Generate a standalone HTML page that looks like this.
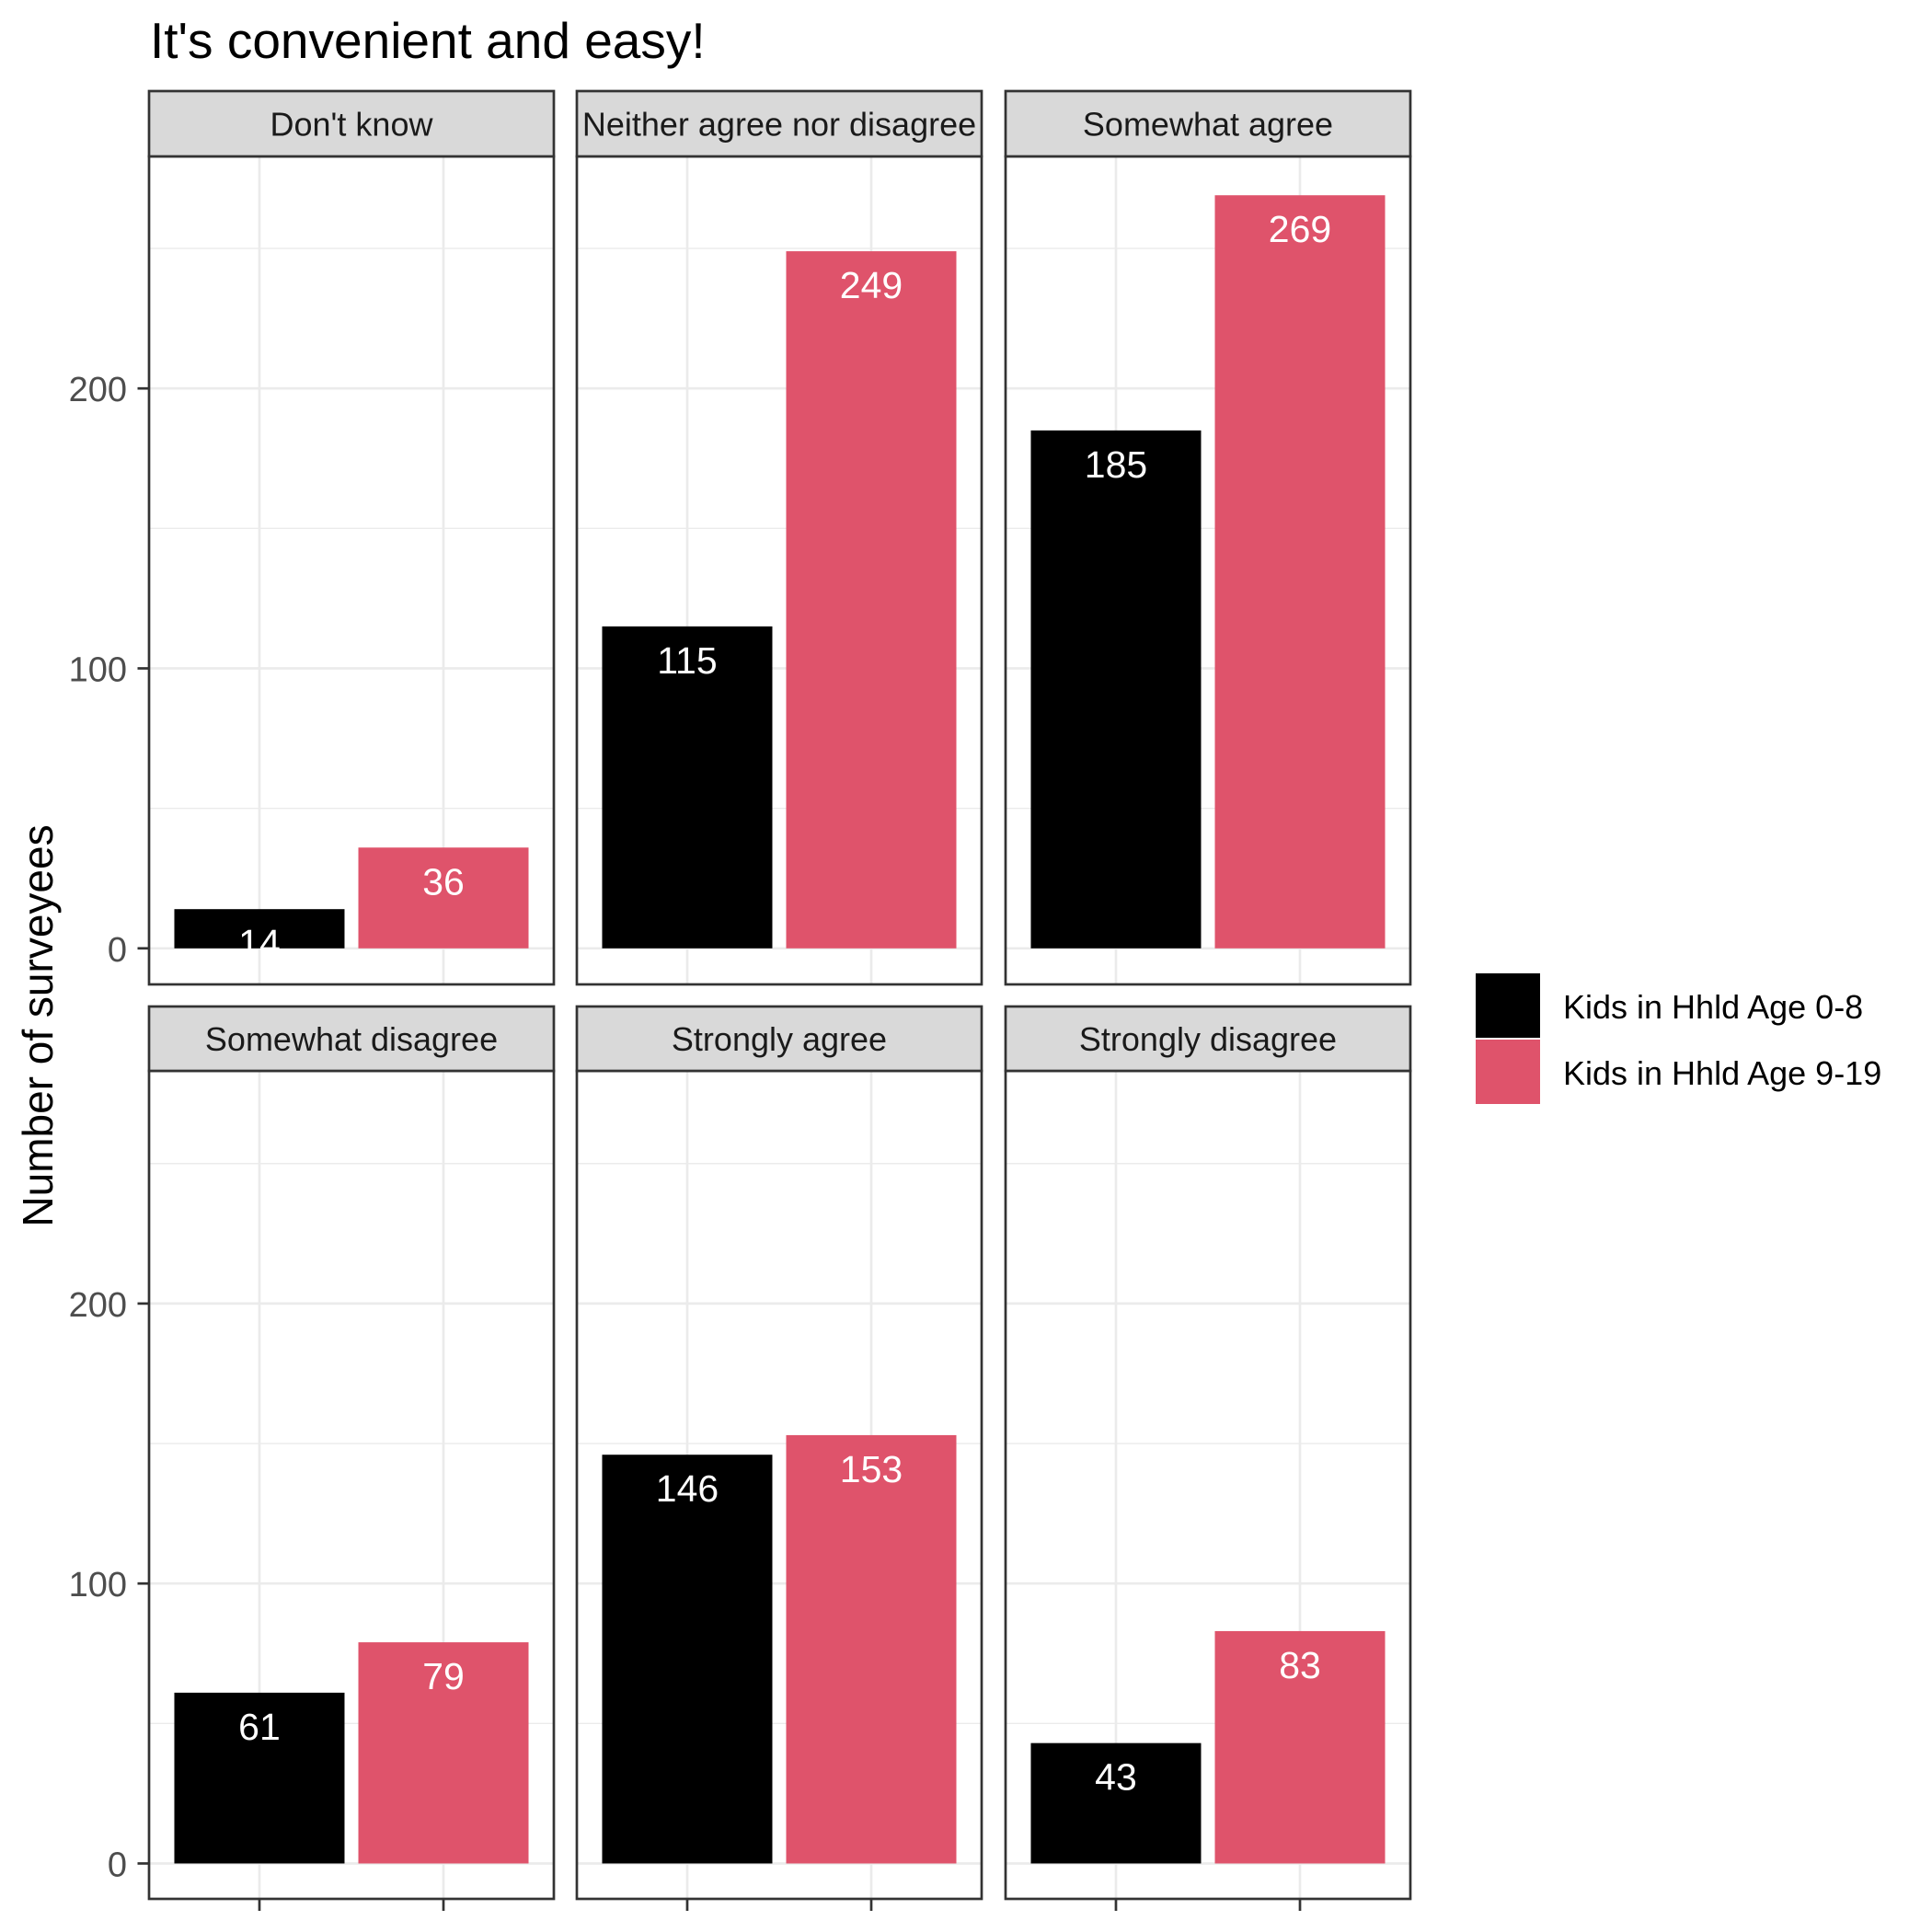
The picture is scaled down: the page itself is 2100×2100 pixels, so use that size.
<!DOCTYPE html>
<html><head><meta charset="utf-8"><style>
html,body{margin:0;padding:0;background:#fff;}
svg{display:block;font-family:"Liberation Sans",Arial,sans-serif;}
</style></head><body>
<svg id="chart" width="2100" height="2100" viewBox="0 0 2100 2100" xmlns="http://www.w3.org/2000/svg">
<rect width="2100" height="2100" fill="#fff"/>
<text x="163" y="63" font-size="55" fill="#000">It's convenient and easy!</text>
<text transform="translate(57,1115) rotate(-90)" text-anchor="middle" font-size="46" fill="#000">Number of surveyees</text>
<g>
<rect x="1604" y="1058" width="70" height="70" fill="#000"/>
<rect x="1604" y="1130" width="70" height="70" fill="#DF536B"/>
<text x="1699" y="1107" font-size="36" fill="#000">Kids in Hhld Age 0-8</text>
<text x="1699" y="1179" font-size="36" fill="#000">Kids in Hhld Age 9-19</text>
</g>
<g id="panels"></g>
</svg>
<script>
const facets = ["Don't know","Neither agree nor disagree","Somewhat agree","Somewhat disagree","Strongly agree","Strongly disagree"];
const age0to8 = [14,115,185,61,146,43];
const age9to19 = [36,249,269,79,153,83];
const yTicks = [0,100,200];
const yMinor = [50,150,250];

const NS="http://www.w3.org/2000/svg";
const g=document.getElementById('panels');
const colX=[162,627,1093], PW=440;
const rows=[{stripTop:99,top:170,bottom:1070,y0:1030.8},{stripTop:1094,top:1164,bottom:2064,y0:2025.5}];
const pxPerUnit=3.043;
function el(tag,attrs,parent){const e=document.createElementNS(NS,tag);for(const k in attrs)e.setAttribute(k,attrs[k]);(parent||g).appendChild(e);return e;}
function yScale(row,v){return rows[row].y0-v*pxPerUnit;}
function xScale(col,i){return colX[col]+PW*(i===0?0.2727:0.7273);}
facets.forEach((f,k)=>{
  const col=k%3,row=Math.floor(k/3),R=rows[row],x0=colX[col];
  const pg=el('g',{});
  
  
  el('rect',{x:x0,y:R.top,width:PW,height:R.bottom-R.top,fill:'#fff'},pg);
  yMinor.forEach(v=>{const l=el('line',{x1:x0,x2:x0+PW,y1:yScale(row,v),y2:yScale(row,v),stroke:'#ebebeb','stroke-width':1.4},pg);
    });
  yTicks.forEach(v=>{const l=el('line',{x1:x0,x2:x0+PW,y1:yScale(row,v),y2:yScale(row,v),stroke:'#ebebeb','stroke-width':2.7},pg);
    });
  [0,1].forEach(i=>{const l=el('line',{x1:xScale(col,i),x2:xScale(col,i),y1:R.top,y2:R.bottom,stroke:'#ebebeb','stroke-width':2.7},pg);
    });
  [[age0to8[k],'#000'],[age9to19[k],'#DF536B']].forEach(([v,c],i)=>{
    const cx=xScale(col,i),top=yScale(row,v);
    const b=el('rect',{x:cx-92.5,y:top,width:185,height:R.y0-top,fill:c},pg);
    
    
    const t=el('text',{x:cx,y:top+51,'text-anchor':'middle','font-size':41,fill:'#fff'},pg);
    t.textContent=v;
    
    
  });
  el('rect',{x:x0,y:R.top,width:PW,height:R.bottom-R.top,fill:'none',stroke:'#333','stroke-width':2.7},pg);
  const s=el('rect',{x:x0,y:R.stripTop,width:PW,height:R.top-R.stripTop,fill:'#d9d9d9',stroke:'#333','stroke-width':2.7},pg);
  
  
  const st=el('text',{x:x0+PW/2,y:(R.stripTop+R.top)/2+13,'text-anchor':'middle','font-size':36,fill:'#1a1a1a'},pg);
  st.textContent=f;
  
  
  if(col===0){
    yTicks.forEach(v=>{
      el('line',{x1:149.5,x2:162,y1:yScale(row,v),y2:yScale(row,v),stroke:'#333','stroke-width':2.7},pg);
      const t=el('text',{x:138,y:yScale(row,v)+14,'text-anchor':'end','font-size':38,fill:'#4d4d4d'},pg);
      t.textContent=v;
      
      
    });
  }
  if(row===1){
    [0,1].forEach(i=>{el('line',{x1:xScale(col,i),x2:xScale(col,i),y1:R.bottom,y2:R.bottom+13,stroke:'#333','stroke-width':2.7},pg);});
  }
});
</script>
</body></html>
